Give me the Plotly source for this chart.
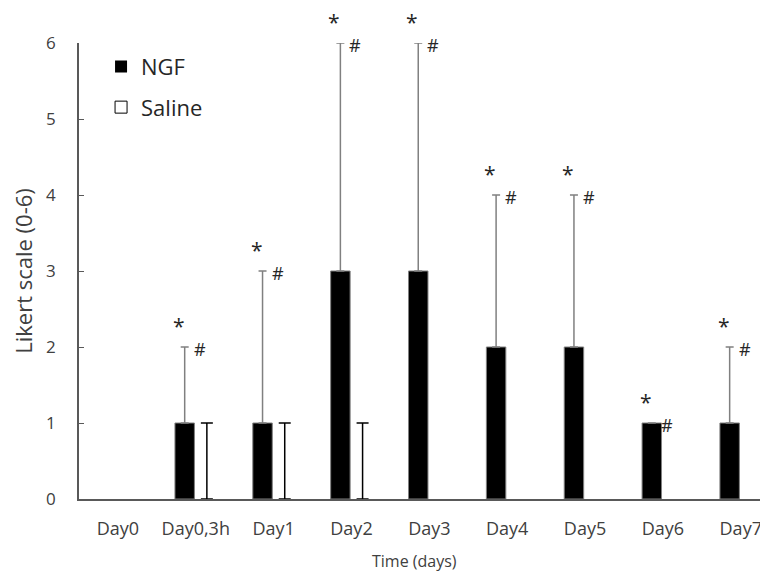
import plotly.graph_objects as go

days = ["Day0", "Day0,3h", "Day1", "Day2", "Day3", "Day4", "Day5", "Day6", "Day7"]
ngf_values = [0, 1, 1, 3, 3, 2, 2, 1, 1]
ngf_err_plus = [None, 1, 2, 3, 3, 2, 2, 0, 1]
saline_values = [0, 0, 0, 0, 0, 0, 0, 0, 0]
saline_err_plus = [None, 1, 1, 1, None, None, None, None, None]
marked_days = ["Day0,3h", "Day1", "Day2", "Day3", "Day4", "Day5", "Day6", "Day7"]

FONT = "Open Sans"
AXC = "#595959"


def shown(values, errs):
    # a zero-height bar with no error bar draws nothing; leave it out so no cap is drawn at 0
    return [None if (v == 0 and e is None) else v for v, e in zip(values, errs)]


fig = go.Figure()
fig.add_trace(go.Bar(
    name="NGF", x=days, y=shown(ngf_values, ngf_err_plus),
    marker=dict(color="black",
                line=dict(color="#808080", width=[1 if v else 0 for v in ngf_values])),
    error_y=dict(type="data", symmetric=False, array=ngf_err_plus,
                 arrayminus=[0] * len(days), color="#808080", thickness=1.5, width=4),
    legendgroup="a", offsetgroup="a",
))
fig.add_trace(go.Bar(
    name="Saline", x=days, y=shown(saline_values, saline_err_plus), showlegend=False,
    marker=dict(color="white",
                line=dict(color="black", width=[1 if v else 0 for v in saline_values])),
    error_y=dict(type="data", symmetric=False, array=saline_err_plus,
                 arrayminus=[0] * len(days), color="black", thickness=1.5, width=6),
    legendgroup="b", offsetgroup="b",
))
# legend entry for Saline (no marks drawn)
fig.add_trace(go.Bar(
    name="Saline", x=days[:1], y=[None],
    marker=dict(color="white", line=dict(color="black", width=1)),
    legendgroup="b", offsetgroup="b",
))

tops = {d: v + (e or 0) for d, v, e in zip(days, ngf_values, ngf_err_plus)}
for d in marked_days:
    fig.add_annotation(x=d, y=tops[d], xref="x", yref="y", text="*", showarrow=False,
                       xshift=-17, yshift=21, font=dict(family=FONT, size=21, color="#262626"))
    fig.add_annotation(x=d, y=tops[d], xref="x", yref="y", text="#", showarrow=False,
                       xshift=4, yshift=-2, font=dict(family=FONT, size=18, color="#262626"))

fig.add_annotation(x=(414 - 79) / 689, y=-(561 - 499) / 456, xref="paper", yref="paper",
                   text="Time (days)", showarrow=False, yanchor="middle",
                   font=dict(family=FONT, size=16, color="#404040"))

# the page adds an 8px body margin, so the figure is 760x565 and shifted accordingly
fig.update_layout(
    width=760, height=565,
    margin=dict(l=71, r=0, t=35, b=74),
    paper_bgcolor="white", plot_bgcolor="white",
    barmode="group", bargap=0.43, bargroupgap=0.123,
    font=dict(family=FONT, size=17, color="#404040"),
    showlegend=True,
    legend=dict(x=0.032, y=0.994, xanchor="left", yanchor="top",
                font=dict(family=FONT, size=22, color="#262626"),
                tracegroupgap=9, bgcolor="rgba(0,0,0,0)"),
    xaxis=dict(range=[-0.5, 8.35], showline=True, linecolor=AXC, linewidth=1.5,
               ticks="", showgrid=False, zeroline=False, ticklabelstandoff=13,
               automargin=False,
               tickfont=dict(family=FONT, size=18, color="#404040")),
    yaxis=dict(range=[0, 6], dtick=1, showline=True, linecolor=AXC, linewidth=1.5,
               ticks="inside", ticklen=5, tickcolor=AXC, showgrid=False, zeroline=False,
               ticklabelstandoff=18, automargin=False,
               tickfont=dict(family=FONT, size=17, color="#404040"),
               title=dict(text="Likert scale (0-6)", standoff=11,
                          font=dict(family=FONT, size=22, color="#404040"))),
)

fig.write_html("out.html")
